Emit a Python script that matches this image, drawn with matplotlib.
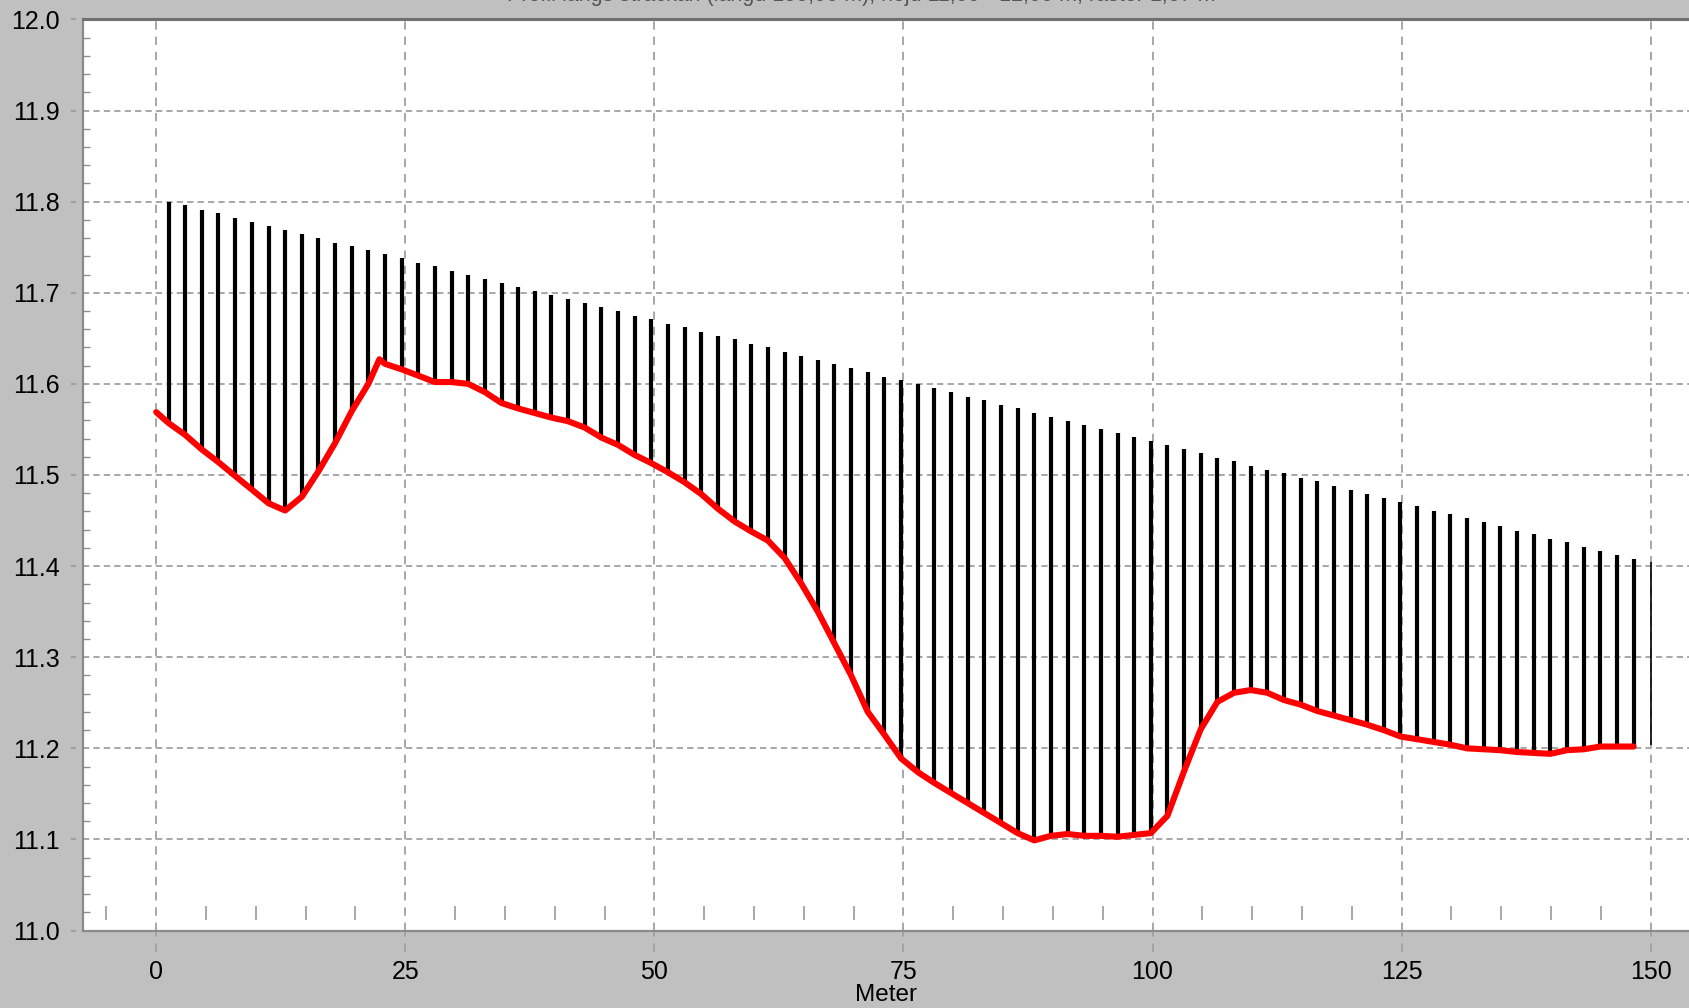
import numpy as np
import matplotlib.pyplot as plt
from matplotlib.ticker import MultipleLocator
from matplotlib.transforms import blended_transform_factory

plt.rcParams['font.family'] = ['Liberation Sans', 'DejaVu Sans']
plt.rcParams['lines.scale_dashes'] = False

# stations of the vertical bars (m)
stem_x = [1.24, 2.91, 4.58, 6.25, 7.92, 9.60, 11.27, 12.94, 14.61, 16.28,
          17.95, 19.62, 21.29, 22.96, 24.63, 26.31, 27.98, 29.65, 31.32, 32.99,
          34.66, 36.33, 38.00, 39.67, 41.34, 43.02, 44.69, 46.36, 48.03, 49.70,
          51.37, 53.04, 54.71, 56.38, 58.05, 59.73, 61.40, 63.07, 64.74, 66.41,
          68.08, 69.75, 71.42, 73.09, 74.76, 76.44, 78.11, 79.78, 81.45, 83.12,
          84.79, 86.46, 88.13, 89.80, 91.47, 93.15, 94.82, 96.49, 98.16, 99.83,
          101.50, 103.17, 104.84, 106.51, 108.18, 109.86, 111.53, 113.20, 114.87, 116.54,
          118.21, 119.88, 121.55, 123.22, 124.89, 126.57, 128.24, 129.91, 131.58, 133.25,
          134.92, 136.59, 138.26, 139.93, 141.60, 143.28, 144.95, 146.62, 148.29]

# upper level of the bars
stem_top = [11.800, 11.796, 11.791, 11.787, 11.782, 11.778, 11.773, 11.769, 11.764, 11.760,
            11.755, 11.751, 11.747, 11.742, 11.738, 11.733, 11.729, 11.724, 11.720, 11.715,
            11.711, 11.706, 11.702, 11.698, 11.693, 11.689, 11.684, 11.680, 11.675, 11.671,
            11.666, 11.662, 11.657, 11.653, 11.649, 11.644, 11.640, 11.635, 11.631, 11.626,
            11.622, 11.617, 11.613, 11.608, 11.604, 11.600, 11.595, 11.591, 11.586, 11.582,
            11.577, 11.573, 11.568, 11.564, 11.559, 11.555, 11.551, 11.546, 11.542, 11.537,
            11.533, 11.528, 11.524, 11.519, 11.515, 11.510, 11.506, 11.502, 11.497, 11.493,
            11.488, 11.484, 11.479, 11.475, 11.470, 11.466, 11.461, 11.457, 11.453, 11.448,
            11.444, 11.439, 11.435, 11.430, 11.426, 11.421, 11.417, 11.412, 11.408]

# ground level at the bars
stem_bottom = [11.557, 11.544, 11.528, 11.514, 11.499, 11.484, 11.469, 11.461, 11.476, 11.504,
               11.535, 11.570, 11.600, 11.622, 11.616, 11.609, 11.602, 11.602, 11.600, 11.591,
               11.579, 11.573, 11.568, 11.563, 11.559, 11.552, 11.541, 11.533, 11.522, 11.513,
               11.503, 11.492, 11.479, 11.463, 11.449, 11.438, 11.428, 11.409, 11.381, 11.350,
               11.315, 11.280, 11.240, 11.215, 11.189, 11.174, 11.162, 11.151, 11.140, 11.129,
               11.118, 11.107, 11.099, 11.104, 11.106, 11.104, 11.104, 11.103, 11.105, 11.107,
               11.126, 11.175, 11.221, 11.251, 11.261, 11.264, 11.261, 11.253, 11.248, 11.241,
               11.236, 11.231, 11.226, 11.220, 11.213, 11.210, 11.207, 11.204, 11.200, 11.199,
               11.198, 11.196, 11.195, 11.194, 11.198, 11.199, 11.202, 11.202, 11.202]

# last (thin) bar at the end of the section
end_x = 150.0
end_top = 11.405
end_bottom = 11.204

# extra profile vertices not on a bar
extra_x = [0.0, 22.4]
extra_z = [11.569, 11.627]

title = "Profil längs sträckan (längd 150,00 m), höjd 11,00 - 12,00 m, raster 1,67 m"

# ---------------------------------------------------------------
fig = plt.figure(figsize=(16.89, 10.08), dpi=100, facecolor='#c0c0c0')
ax = fig.add_axes([82.5 / 1689, 77.4 / 1008, 1 - 82.5 / 1689, 911.2 / 1008])
ax.set_facecolor('white')

ax.set_xlim(-7.4, 153.85)
ax.set_ylim(11.0, 12.0)

# grid
grid_c = '#a0a0a0'
ax.xaxis.grid(True, color=grid_c, lw=1.3, linestyle=(0, (6, 5)))
ax.yaxis.grid(True, color=grid_c, lw=1.3, linestyle=(0, (4.5, 3)))
ax.set_axisbelow(True)

# bars
ax.vlines(stem_x, stem_bottom, stem_top, colors='black', lw=3.0, zorder=3)
ax.vlines([end_x], [end_bottom], [end_top], colors='black', lw=1.2, zorder=3)

# ground profile
px = np.array(extra_x + stem_x)
pz = np.array(extra_z + stem_bottom)
order = np.argsort(px)
ax.plot(px[order], pz[order], color='#ff0000', lw=4.4, solid_joinstyle='round',
        solid_capstyle='round', zorder=4)

# ticks
ax.xaxis.set_major_locator(MultipleLocator(25))
ax.yaxis.set_major_locator(MultipleLocator(0.1))
ax.yaxis.set_minor_locator(MultipleLocator(0.02))
ax.xaxis.set_major_formatter(plt.FuncFormatter(lambda v, p: f"{v:.0f}"))
ax.yaxis.set_major_formatter(plt.FuncFormatter(lambda v, p: f"{v:.1f}"))
ax.tick_params(axis='x', which='major', length=0, pad=21, labelsize=18)
ax.tick_params(axis='y', which='major', length=0, pad=16.5, labelsize=18)
ax.tick_params(axis='y', which='minor', direction='in', length=5, width=1, color='#909090')
ax.tick_params(axis='x', which='minor', length=0)

# dashed tick extensions like the original widget
xt = blended_transform_factory(ax.transData, ax.transAxes)
for v in np.arange(0, 151, 25):
    ax.plot([v, v], [-0.024, 0], transform=xt, color=grid_c, lw=1.3,
            linestyle=(0, (6, 5)), clip_on=False)
for v in np.arange(-5, 154, 5):
    if v % 25 == 0:
        continue
    ax.plot([v, v], [0.026, 0.013], transform=xt, color=grid_c, lw=1.3, clip_on=False)
yt = blended_transform_factory(ax.transAxes, ax.transData)
for v in np.arange(11.0, 12.01, 0.1):
    ax.plot([-0.0068, -0.0048], [v, v], transform=yt, color=grid_c, lw=1.5, clip_on=False)

# frame
for s in ['left', 'bottom']:
    ax.spines[s].set_color('#8a8a8a')
    ax.spines[s].set_linewidth(1.6)
ax.spines['top'].set_color('#707070')
ax.spines['top'].set_linewidth(2.2)
ax.spines['right'].set_visible(False)

ax.set_xlabel('Meter', fontsize=17.5, labelpad=0)

# the title sits mostly above the visible area, as in the original screenshot
fig.text(0.51, 1 - 1.5 / 1008, title, ha='center', va='baseline', fontsize=15.5, color='#555555')

fig.savefig('out.png', dpi=100, facecolor=fig.get_facecolor())
